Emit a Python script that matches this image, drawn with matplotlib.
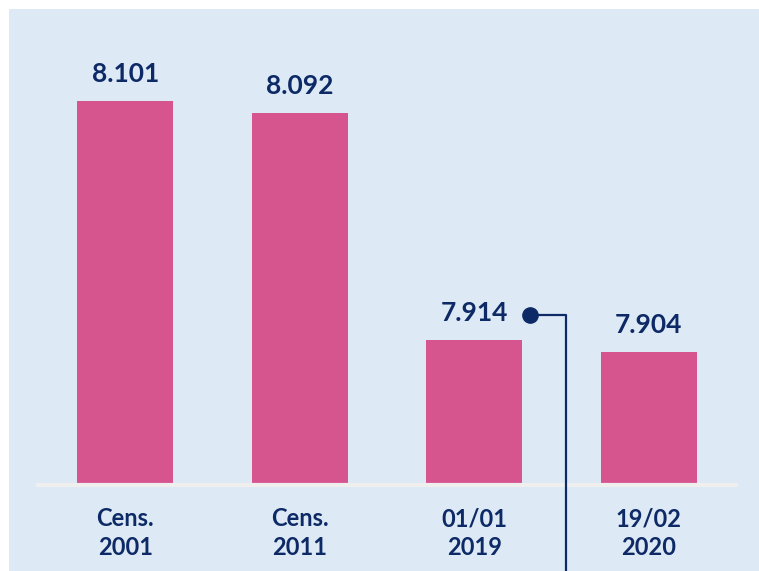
import matplotlib
matplotlib.use("Agg")
import matplotlib.pyplot as plt
from matplotlib.patches import Rectangle

# dati
categorie = ["Cens.\n2001", "Cens.\n2011", "01/01\n2019", "19/02\n2020"]
valori = [8.101, 8.092, 7.914, 7.904]
etichette = ["8.101", "8.092", "7.914", "7.904"]

navy = "#0d2a66"
rosa = "#d6558f"
sfondo = "#dde9f5"

plt.rcParams["font.family"] = ["Lato", "DejaVu Sans"]

fig = plt.figure(figsize=(7.59, 5.71), dpi=100)
fig.patch.set_facecolor("white")
fig.patches.append(Rectangle((9 / 759, 0), 1, 562 / 571, transform=fig.transFigure,
                             facecolor=sfondo, edgecolor="none", zorder=-10))

ax = fig.add_axes([38 / 759, 86 / 571, 698 / 759, 476 / 571])
ax.set_facecolor("none")

x = range(len(valori))
ax.bar(x, valori, width=0.55, color=rosa, zorder=2)
ax.set_xlim(-0.5, 3.5)
ax.set_ylim(7.80, 8.1733)

for i, (v, t) in enumerate(zip(valori, etichette)):
    ax.annotate(t, (i, v), xytext=(0, 19.5), textcoords="offset points",
                ha="center", va="center", fontsize=19, fontweight="bold", color=navy)

# linea di richiamo sul dato 2019
xd = 2 + 0.32
yd = valori[2] + 0.0193
ax.plot([xd, 2.527, 2.527], [yd, yd, 7.70], color=navy, lw=1.6, clip_on=False, zorder=3)
ax.plot(xd, yd, "o", color=navy, ms=11, clip_on=False, zorder=4)

for s in ["top", "right", "left"]:
    ax.spines[s].set_visible(False)
ax.spines["bottom"].set_color("#efefef")
ax.spines["bottom"].set_linewidth(3)
ax.set_yticks([])
ax.set_xticks(list(x))
ax.set_xticklabels(categorie, fontsize=17, fontweight="bold", color=navy, linespacing=1.3)
ax.tick_params(axis="x", length=0, pad=16)

fig.savefig("out.png", dpi=100)
